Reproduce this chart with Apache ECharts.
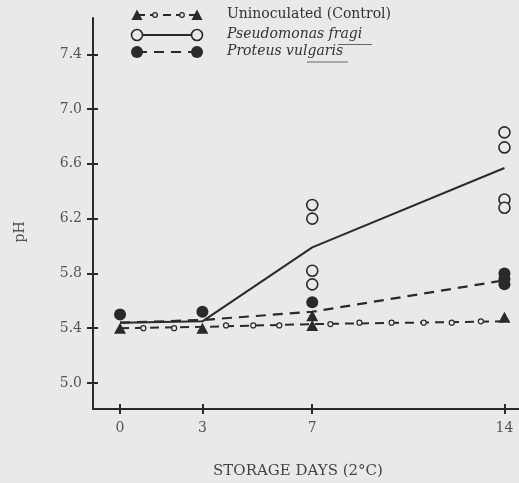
<!DOCTYPE html>
<html>
<head>
<meta charset="utf-8">
<script src="https://cdn.jsdelivr.net/npm/echarts@6/dist/echarts.min.js"></script>
<style>html,body{margin:0;padding:0;background:#e9e9e9;}#c{width:519px;height:483px;}</style>
</head>
<body>
<div id="c"></div>
<script>
// ---- data ----
const days = [0, 3, 7, 14];
const xTickLabels = [0, 3, 7, 14];
const yTickLabels = [5.0, 5.4, 5.8, 6.2, 6.6, 7.0, 7.4];

const controlMean = [5.40, 5.41, 5.43, 5.45];
const pseudoMean  = [5.44, 5.45, 5.99, 6.57];
const proteusMean = [5.44, 5.46, 5.52, 5.75];

const controlObsDays = [0, 3, 7, 7, 14];
const controlObs     = [5.40, 5.40, 5.42, 5.49, 5.48];

const pseudoObsDays = [7, 7, 7, 7, 14, 14, 14, 14];
const pseudoObs     = [6.30, 6.20, 5.82, 5.72, 6.83, 6.72, 6.34, 6.28];

const proteusObsDays = [0, 3, 7, 14, 14, 14];
const proteusObs     = [5.50, 5.52, 5.59, 5.80, 5.76, 5.72];

// small circles drawn along the control line
const controlDotDays = [0.85, 1.97, 3.86, 4.85, 5.80, 7.66, 8.72, 9.89, 11.06, 12.08, 13.14];
const controlDotVals = [5.40, 5.40, 5.42, 5.42, 5.42, 5.43, 5.44, 5.44, 5.44, 5.44, 5.45];

const legendNames = ['Uninoculated (Control)', 'Pseudomonas fragi', 'Proteus vulgaris'];
const xName = 'STORAGE DAYS (2\u00B0C)';
const yName = 'pH';

// ---- chart ----
const INK = '#2a2a2a';
const BG = '#e9e9e9';
const FONT = 'DejaVu Serif';
const pair = (xs, ys) => xs.map((x, i) => [x, ys[i]]);

const chart = echarts.init(document.getElementById('c'), null, {renderer: 'canvas'});

const xCommon = {type: 'value', min: -0.985, max: 14.53, splitLine: {show: false}};
const yCommon = {type: 'value', min: 4.81, max: 7.665, splitLine: {show: false}};

const option = {
  backgroundColor: BG,
  animation: false,
  grid: {left: 93, right: 0, top: 18, bottom: 74},
  xAxis: [
    Object.assign({}, xCommon, {
      position: 'bottom',
      axisLine: {show: true, onZero: false, lineStyle: {color: INK, width: 2}},
      axisTick: {show: true, customValues: xTickLabels, length: 5, lineStyle: {color: INK, width: 2}},
      axisLabel: {show: true, customValues: xTickLabels, margin: 12,
        fontFamily: FONT, fontSize: 14, color: '#555', formatter: v => String(v)}
    }),
    Object.assign({}, xCommon, {
      position: 'bottom',
      axisLine: {show: false, onZero: false},
      axisTick: {show: true, inside: true, customValues: xTickLabels, length: 5, lineStyle: {color: INK, width: 2}},
      axisLabel: {show: false}
    })
  ],
  yAxis: [
    Object.assign({}, yCommon, {
      position: 'left',
      axisLine: {show: true, onZero: false, lineStyle: {color: INK, width: 2}},
      axisTick: {show: true, customValues: yTickLabels, length: 6, lineStyle: {color: INK, width: 2}},
      axisLabel: {show: true, customValues: yTickLabels, margin: 11,
        fontFamily: FONT, fontSize: 14, color: '#555', formatter: v => v.toFixed(1)}
    }),
    Object.assign({}, yCommon, {
      position: 'left',
      axisLine: {show: false, onZero: false},
      axisTick: {show: true, inside: true, customValues: yTickLabels, length: 5, lineStyle: {color: INK, width: 2}},
      axisLabel: {show: false}
    })
  ],
  series: [
    {name: legendNames[1], type: 'line', data: pair(days, pseudoMean), showSymbol: false, z: 2,
      lineStyle: {color: INK, width: 2, type: 'solid'}},
    {name: legendNames[2], type: 'line', data: pair(days, proteusMean), showSymbol: false, z: 2,
      lineStyle: {color: INK, width: 2.2, type: [10, 7]}},
    {name: legendNames[0], type: 'line', data: pair(days, controlMean), showSymbol: false, z: 2,
      lineStyle: {color: INK, width: 2, type: [9, 6]}},
    {type: 'scatter', data: pair(controlDotDays, controlDotVals), symbol: 'circle', symbolSize: 5, z: 3,
      itemStyle: {color: BG, borderColor: INK, borderWidth: 1.2, opacity: 1}},
    {type: 'scatter', data: pair(pseudoObsDays, pseudoObs), symbol: 'circle', symbolSize: 11, z: 4,
      itemStyle: {color: BG, borderColor: INK, borderWidth: 1.6, opacity: 1}},
    {type: 'scatter', data: pair(controlObsDays, controlObs), symbol: 'triangle', symbolSize: [12, 11], z: 5,
      itemStyle: {color: INK, opacity: 1}},
    {type: 'scatter', data: pair(proteusObsDays, proteusObs), symbol: 'circle', symbolSize: 12, z: 6,
      itemStyle: {color: INK, opacity: 1}}
  ],
  graphic: [
    // legend row 1: control
    {type: 'line', shape: {x1: 137, y1: 15, x2: 197, y2: 15}, style: {stroke: INK, lineWidth: 2, lineDash: [8, 5]}},
    {type: 'circle', shape: {cx: 155, cy: 15, r: 2.3}, style: {fill: BG, stroke: INK, lineWidth: 1.2}},
    {type: 'circle', shape: {cx: 182, cy: 15, r: 2.3}, style: {fill: BG, stroke: INK, lineWidth: 1.2}},
    {type: 'polygon', shape: {points: [[137, 9.5], [142.5, 20], [131.5, 20]]}, style: {fill: INK}},
    {type: 'polygon', shape: {points: [[197, 9.5], [202.5, 20], [191.5, 20]]}, style: {fill: INK}},
    // legend row 2: pseudomonas
    {type: 'line', shape: {x1: 137, y1: 35, x2: 197, y2: 35}, style: {stroke: INK, lineWidth: 2}},
    {type: 'circle', shape: {cx: 137, cy: 35, r: 5.5}, style: {fill: BG, stroke: INK, lineWidth: 1.6}},
    {type: 'circle', shape: {cx: 197, cy: 35, r: 5.5}, style: {fill: BG, stroke: INK, lineWidth: 1.6}},
    // legend row 3: proteus
    {type: 'line', shape: {x1: 137, y1: 52, x2: 197, y2: 52}, style: {stroke: INK, lineWidth: 2.2, lineDash: [10, 7]}},
    {type: 'circle', shape: {cx: 137, cy: 52, r: 6}, style: {fill: INK}},
    {type: 'circle', shape: {cx: 197, cy: 52, r: 6}, style: {fill: INK}},
    // legend texts
    {type: 'text', left: 227, top: 7, style: {text: legendNames[0], font: '14px "DejaVu Serif"', fill: '#333'}},
    {type: 'text', left: 227, top: 27, style: {text: legendNames[1], font: 'italic 14px "DejaVu Serif"', fill: '#333'}},
    {type: 'text', left: 227, top: 44, style: {text: legendNames[2], font: 'italic 14px "DejaVu Serif"', fill: '#333'}},
    {type: 'line', shape: {x1: 338, y1: 44.5, x2: 372, y2: 44.5}, style: {stroke: '#666', lineWidth: 1}},
    {type: 'line', shape: {x1: 307, y1: 62, x2: 348, y2: 62}, style: {stroke: '#666', lineWidth: 1}},
    // axis names
    {type: 'text', x: 20, y: 232, rotation: Math.PI / 2,
      style: {text: yName, font: '14px "DejaVu Serif"', fill: '#555', align: 'center', verticalAlign: 'middle'}},
    {type: 'text', x: 298, y: 471,
      style: {text: xName, font: '15px "DejaVu Serif"', fill: '#444', align: 'center', verticalAlign: 'middle'}}
  ]
};
chart.setOption(option);
</script>
</body>
</html>
